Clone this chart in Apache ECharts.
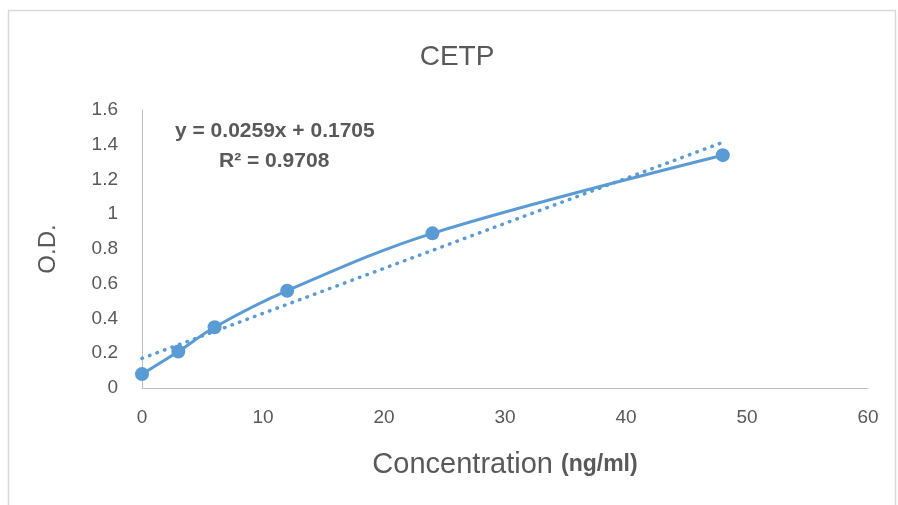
<!DOCTYPE html>
<html><head><meta charset="utf-8">
<script src="https://cdn.jsdelivr.net/npm/echarts@6/dist/echarts.min.js"></script>
<style>html,body{margin:0;padding:0;background:#fff}#c{width:898px;height:505px}</style>
</head><body><div id="c"></div>
<script>
const concentrations = [0, 3, 6, 12, 24, 48];
const odValues = [0.08, 0.21, 0.35, 0.56, 0.89, 1.34];
const trendX = [0, 48];
const trendY = [0.1705, 1.4137];
const equationText = 'y = 0.0259x + 0.1705';
const r2Text = 'R² = 0.9708';
const xTicks = [0, 10, 20, 30, 40, 50, 60];
const yTicks = [0, 0.2, 0.4, 0.6, 0.8, 1, 1.2, 1.4, 1.6];

const font = 'Liberation Sans';
const grey = '#595959';
const blue = '#5B9BD5';
const chart = echarts.init(document.getElementById('c'), null, {renderer: 'canvas'});
chart.setOption({
  animation: false,
  grid: {left: 142, right: 30, top: 110, bottom: 117},
  xAxis: {
    type: 'value', min: xTicks[0], max: xTicks[xTicks.length - 1], interval: 10,
    axisLine: {lineStyle: {color: '#BFBFBF', width: 1}},
    axisTick: {show: false}, splitLine: {show: false},
    axisLabel: {fontFamily: font, fontSize: 19, color: grey, margin: 20},
    name: '{a|Concentration }{b|(ng/ml)}', nameLocation: 'middle', nameGap: 62,
    nameTextStyle: {rich: {a: {fontFamily: font, fontSize: 29, color: grey}, b: {fontFamily: font, fontSize: 23, fontWeight: 'bold', color: grey}}}
  },
  yAxis: {
    type: 'value', min: yTicks[0], max: yTicks[yTicks.length - 1], interval: 0.2,
    axisLine: {show: true, lineStyle: {color: '#BFBFBF', width: 1}},
    axisTick: {show: false}, splitLine: {show: false},
    axisLabel: {fontFamily: font, fontSize: 19, color: grey, margin: 24, formatter: v => String(Math.round(v * 10) / 10)},
    name: 'O.D.', nameLocation: 'middle', nameGap: 82, nameRotate: 90,
    nameTextStyle: {fontFamily: font, fontSize: 24, color: grey}
  },
  series: [
    {
      type: 'line', data: trendX.map((x, i) => [x, trendY[i]]), symbol: 'none',
      lineStyle: {color: blue, width: 3.5, type: [0.5, 7.5], cap: 'round'}, z: 1
    },
    {
      type: 'line', data: concentrations.map((x, i) => [x, odValues[i]]), smooth: 0.35,
      symbol: 'circle', symbolSize: 14,
      itemStyle: {color: blue}, lineStyle: {color: blue, width: 3}, z: 2
    }
  ],
  graphic: [
    {type: 'rect', shape: {x: 8.5, y: 10.5, width: 887, height: 500}, style: {fill: 'none', stroke: '#D9D9D9', lineWidth: 1.5}, silent: true},
    {type: 'text', x: 457, y: 57, style: {text: 'CETP', fontFamily: font, fontSize: 28, fill: grey, align: 'center', verticalAlign: 'middle'}},
    {type: 'text', x: 175, y: 131, style: {text: equationText, fontFamily: font, fontSize: 21, fontWeight: 'bold', fill: grey, verticalAlign: 'middle'}},
    {type: 'text', x: 219, y: 161, style: {text: r2Text, fontFamily: font, fontSize: 21, fontWeight: 'bold', fill: grey, verticalAlign: 'middle'}}
  ]
});
</script></body></html>
